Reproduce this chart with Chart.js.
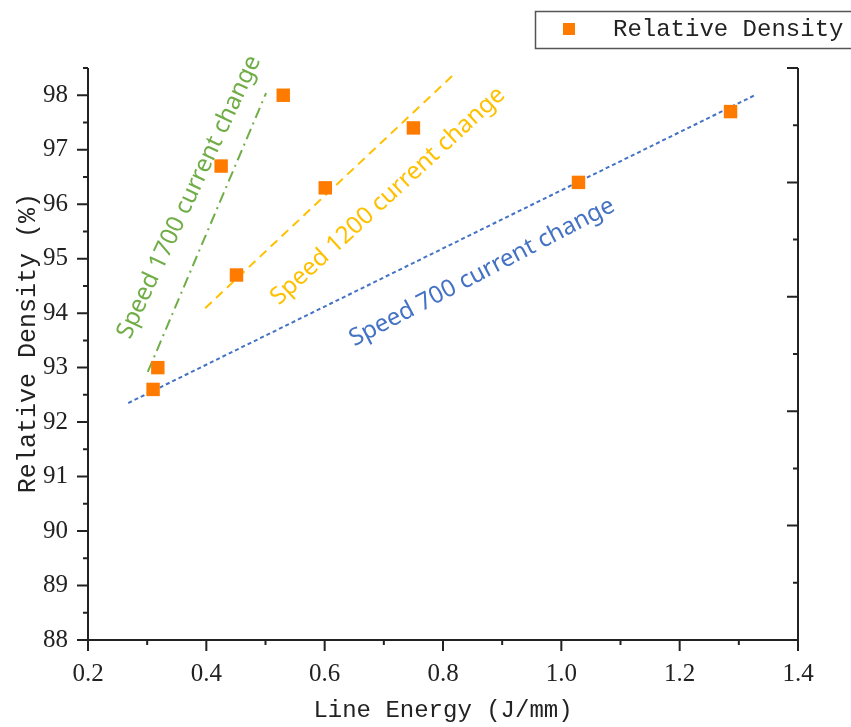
<!DOCTYPE html>
<html>
<head>
<meta charset="utf-8">
<script src="https://cdn.jsdelivr.net/npm/chart.js@4.4.0/dist/chart.umd.min.js"></script>
<style>
    html, body { margin: 0; padding: 0; background: #ffffff; }
</style>
</head>
<body>
<canvas id="chartDensidad" width="851" height="727"></canvas>
<script>
// puntos medidos
const energy = [0.310, 0.318, 0.425, 0.451, 0.530, 0.601, 0.750, 1.029, 1.286];
const density = [92.6, 93.0, 96.7, 94.7, 98.0, 96.3, 97.4, 96.4, 97.7];

// rectas de tendencia (extremos)
const fit700X = [0.268, 1.327];
const fit700Y = [92.35, 98.0];
const fit1200X = [0.398, 0.817];
const fit1200Y = [94.09, 98.37];
const fit1700X = [0.301, 0.501];
const fit1700Y = [92.92, 98.04];

const trendNames = ['Speed 700 current change', 'Speed 1200 current change', 'Speed 1700 current change'];

const xTicks = [0.2, 0.4, 0.6, 0.8, 1.0, 1.2, 1.4];
const yTicks = [88, 89, 90, 91, 92, 93, 94, 95, 96, 97, 98];

// estilos
const colorPunto = '#ff7b00';
const colorEje = '#222222';
const trendColors = ['#4472c4', '#ffc000', '#70ad47'];
const trendDash = [[4, 3], [9, 6], [11, 5, 2, 5]];
const labelPos = [
    { x: 0.866, y: 94.75, angle: -27.5 },
    { x: 0.707, y: 96.15, angle: -42.7 },
    { x: 0.371, y: 96.13, angle: -65.0 }
];

const toPoints = (xs, ys) => xs.map((x, i) => ({ x: x, y: ys[i] }));

const canvas = document.getElementById('chartDensidad');
const ctx = canvas.getContext('2d');

const lineDataset = (i, xs, ys) => ({
    label: trendNames[i],
    data: toPoints(xs, ys),
    showLine: true,
    borderColor: trendColors[i],
    borderWidth: 2,
    borderDash: trendDash[i],
    pointRadius: 0,
    fill: false
});

const ejesPlugin = {
    id: 'ejes',
    afterDraw(chart) {
        const c = chart.ctx;
        const { left, right, top, bottom } = chart.chartArea;
        const sx = chart.scales.x, sy = chart.scales.y, sy2 = chart.scales.y2;
        c.save();
        c.strokeStyle = colorEje;
        c.lineWidth = 2;
        c.beginPath();
        c.moveTo(left, top); c.lineTo(left, bottom);
        c.moveTo(left, bottom); c.lineTo(right, bottom);
        c.moveTo(right, top); c.lineTo(right, bottom);
        // ticks eje y (afuera)
        for (let k = 0; k <= 21; k++) {
            const py = sy.getPixelForValue(88 + k * 0.5);
            const len = k % 2 === 0 ? 11 : 5;
            c.moveTo(left - len, py); c.lineTo(left, py);
        }
        // ticks eje x (afuera)
        for (let k = 0; k <= 12; k++) {
            const px = sx.getPixelForValue(0.2 + k * 0.1);
            const len = k % 2 === 0 ? 11 : 5;
            c.moveTo(px, bottom); c.lineTo(px, bottom + len);
        }
        // ticks eje derecho (adentro)
        for (let k = 0; k <= 10; k++) {
            const py = sy2.getPixelForValue(k);
            const len = k % 2 === 0 ? 11 : 5;
            c.moveTo(right - len, py); c.lineTo(right, py);
        }
        c.stroke();

        // titulo eje y
        c.fillStyle = colorEje;
        c.font = '25px "Liberation Mono"';
        c.textAlign = 'center';
        c.textBaseline = 'middle';
        c.save();
        c.translate(28, sy.getPixelForValue(93.45));
        c.rotate(-Math.PI / 2);
        c.fillText('Relative Density (%)', 0, 0);
        c.restore();

        // leyenda
        c.strokeStyle = '#555555';
        c.lineWidth = 1.5;
        c.strokeRect(535.5, 11.5, 330, 37);
        c.fillStyle = colorPunto;
        c.fillRect(563, 23, 12, 12);
        c.fillStyle = colorEje;
        c.font = '24px "Liberation Mono"';
        c.textAlign = 'left';
        c.fillText(chart.data.datasets[0].label, 613, 30);
        c.restore();
    },
    afterDatasetsDraw(chart) {
        const c = chart.ctx;
        const sx = chart.scales.x, sy = chart.scales.y;
        c.save();
        c.font = '24px "Noto Sans"';
        c.textAlign = 'center';
        c.textBaseline = 'middle';
        labelPos.forEach((p, i) => {
            c.save();
            c.translate(sx.getPixelForValue(p.x), sy.getPixelForValue(p.y));
            c.rotate(p.angle * Math.PI / 180);
            c.fillStyle = trendColors[i];
            c.fillText(trendNames[i], 0, 0);
            c.restore();
        });
        c.restore();
    }
};

const chartDensidad = new Chart(ctx, {
    type: 'scatter',
    data: {
        datasets: [
            {
                label: 'Relative Density',
                data: toPoints(energy, density),
                pointStyle: 'rect',
                pointRadius: 9.5,
                pointHoverRadius: 9.5,
                backgroundColor: colorPunto,
                borderColor: colorPunto,
                borderWidth: 0
            },
            lineDataset(0, fit700X, fit700Y),
            lineDataset(1, fit1200X, fit1200Y),
            lineDataset(2, fit1700X, fit1700Y)
        ]
    },
    options: {
        responsive: false,
        animation: false,
        layout: { padding: { top: 68, right: 53, left: 0, bottom: 0 } },
        plugins: {
            legend: { display: false },
            tooltip: { enabled: false }
        },
        scales: {
            x: {
                type: 'linear',
                position: 'bottom',
                min: 0.2,
                max: 1.4,
                afterBuildTicks: s => { s.ticks = xTicks.map(v => ({ value: v })); },
                afterFit: s => { s.height = 87; },
                ticks: {
                    callback: v => v.toFixed(1),
                    font: { family: '"Liberation Serif"', size: 25 },
                    color: colorEje,
                    padding: 19,
                    maxRotation: 0
                },
                grid: { display: false, drawTicks: false },
                border: { display: false },
                title: {
                    display: true,
                    text: 'Line Energy (J/mm)',
                    font: { family: '"Liberation Mono"', size: 24 },
                    color: colorEje,
                    padding: { top: 0, bottom: 2 }
                }
            },
            y: {
                type: 'linear',
                position: 'left',
                min: 88,
                max: 98.5,
                afterBuildTicks: s => { s.ticks = yTicks.map(v => ({ value: v })); },
                afterFit: s => { s.width = 88; },
                ticks: {
                    font: { family: '"Liberation Serif"', size: 25 },
                    color: colorEje,
                    padding: 20
                },
                grid: { display: false, drawTicks: false },
                border: { display: false },
                title: { display: false }
            },
            y2: {
                type: 'linear',
                position: 'right',
                min: 0,
                max: 10,
                afterFit: s => { s.width = 0; },
                ticks: { display: false },
                grid: { display: false, drawTicks: false },
                border: { display: false }
            }
        }
    },
    plugins: [ejesPlugin]
});
</script>
</body>
</html>
